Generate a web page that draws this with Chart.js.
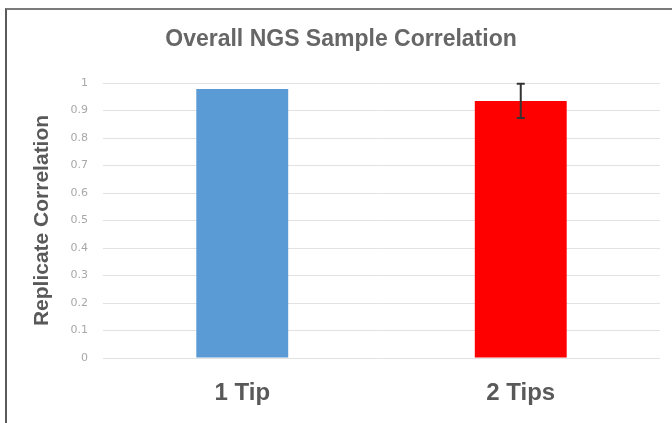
<!DOCTYPE html>
<html>
<head>
<meta charset="utf-8">
<script src="https://cdn.jsdelivr.net/npm/chart.js@4"></script>
<style>
  html, body { margin: 0; padding: 0; background: #fff; }
  #wrap { position: relative; width: 672px; height: 423px; overflow: hidden; }
  #frame {
    position: absolute; left: 5px; top: 8px; width: 700px; height: 440px;
    border-top: 2px solid #7a7a7a; border-left: 2px solid #5a5a5a;
  }
  canvas { position: absolute; left: 0; top: 0; }
</style>
</head>
<body>
<div id="wrap">
  <div id="frame"></div>
  <canvas id="chart" width="672" height="423"></canvas>
</div>
<script>
const categories = ["1 Tip", "2 Tips"];
const correlation = [0.978, 0.935];
const errors = [null, 0.062];
const barColors = ["#5B9BD5", "#FF0000"];
const tickLabels = ["0", "0.1", "0.2", "0.3", "0.4", "0.5", "0.6", "0.7", "0.8", "0.9", "1"];

// draws the error whiskers on top of the bars
const errorBars = {
    id: "errorBars",
    afterDatasetsDraw(chart) {
        const ctx = chart.ctx;
        const x = chart.scales.x;
        const y = chart.scales.y;
        ctx.save();
        ctx.strokeStyle = "#333";
        ctx.lineWidth = 2;
        errors.forEach((err, i) => {
            if (err == null) return;
            const cx = x.getPixelForValue(i);
            const top = y.getPixelForValue(correlation[i] + err);
            const bottom = y.getPixelForValue(correlation[i] - err);
            ctx.beginPath();
            ctx.moveTo(cx, top);
            ctx.lineTo(cx, bottom);
            ctx.moveTo(cx - 4, top);
            ctx.lineTo(cx + 4, top);
            ctx.moveTo(cx - 4, bottom);
            ctx.lineTo(cx + 4, bottom);
            ctx.stroke();
        });
        ctx.restore();
    }
};

const ctx = document.getElementById("chart").getContext("2d");
new Chart(ctx, {
    type: "bar",
    data: {
        labels: categories,
        datasets: [{
            data: correlation,
            backgroundColor: barColors,
            borderWidth: 0,
            categoryPercentage: 1,
            barPercentage: 0.33
        }]
    },
    options: {
        responsive: false,
        animation: false,
        layout: { padding: { top: 0, left: 22, right: 12, bottom: 0 } },
        plugins: {
            legend: { display: false },
            tooltip: { enabled: false },
            title: {
                display: true,
                text: "Overall NGS Sample Correlation",
                color: "#666666",
                font: { family: "Liberation Sans", size: 23, weight: "bold" },
                padding: { top: 26, bottom: 29.4 }
            }
        },
        scales: {
            x: {
                grid: { display: false },
                border: { display: false },
                ticks: {
                    color: "#595959",
                    font: { family: "Liberation Sans", size: 24, weight: "bold" },
                    padding: 13
                },
                afterFit: (scale) => { scale.height = 65; }
            },
            y: {
                min: 0,
                max: 1,
                grid: { color: "#e2e2e2", drawTicks: false },
                border: { display: false },
                ticks: {
                    stepSize: 0.1,
                    color: "#a8a8a8",
                    padding: 15,
                    font: { family: "DejaVu Sans", size: 11 },
                    callback: (v, i) => tickLabels[i]
                },
                title: {
                    display: true,
                    text: "Replicate Correlation",
                    color: "#595959",
                    font: { family: "Liberation Sans", size: 21, weight: "bold" },
                    padding: { top: 7.4, bottom: 0 }
                },
                afterFit: (scale) => { scale.width = 81; }
            }
        }
    },
    plugins: [errorBars]
});
</script>
</body>
</html>
